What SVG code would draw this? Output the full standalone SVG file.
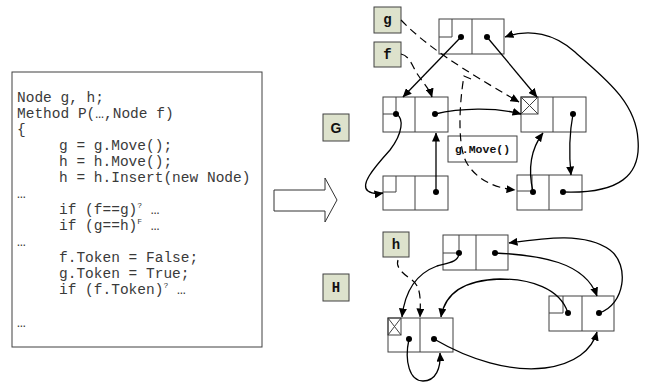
<svg xmlns="http://www.w3.org/2000/svg" width="648" height="387" viewBox="0 0 648 387">
<defs>
  <marker id="ah" markerWidth="9" markerHeight="8" refX="8.5" refY="4" orient="auto" markerUnits="userSpaceOnUse">
    <path d="M0,0 L9,4 L0,8 z" fill="#000"/>
  </marker>
</defs>
<style>
  .box{fill:#fff;stroke:#404040;stroke-width:1}
  .lbl{fill:#dde2cc;stroke:#404040;stroke-width:1}
  .ln{stroke:#404040;stroke-width:1;fill:none}
  .dot{fill:#000}
  .ptr{fill:none;stroke:#000;stroke-width:1.3;marker-end:url(#ah)}
  .dash{fill:none;stroke:#000;stroke-width:1.2;stroke-dasharray:8 5;marker-end:url(#ah)}
  .code{font-family:"Liberation Mono","Courier New",monospace;font-size:14.5px;fill:#3a3a3a}
  .sup{font-size:8px}
  .var{font-family:"Liberation Mono","Courier New",monospace;font-weight:bold;font-size:14px;fill:#111;text-anchor:middle}
  .gname{font-family:"Liberation Sans",Arial,sans-serif;font-weight:bold;font-size:14px;fill:#111;text-anchor:middle}
  .call{font-family:"Liberation Mono","Courier New",monospace;font-weight:bold;font-size:11.5px;fill:#111;text-anchor:middle}
</style>

<!-- source listing -->
<g id="code">
  <rect class="box" x="12" y="72" width="250" height="275"/>
  <text class="code" x="17" y="102">Node g, h;</text>
  <text class="code" x="17" y="118">Method P(…,Node f)</text>
  <text class="code" x="17" y="134">{</text>
  <text class="code" x="59" y="150">g = g.Move();</text>
  <text class="code" x="59" y="166">h = h.Move();</text>
  <text class="code" x="59" y="182">h = h.Insert(new Node)</text>
  <text class="code" x="17" y="198">…</text>
  <text class="code" x="59" y="214">if (f==g)<tspan class="sup" dy="-6">?</tspan><tspan dy="6"> …</tspan></text>
  <text class="code" x="59" y="230">if (g==h)<tspan class="sup" dy="-6">F</tspan><tspan dy="6"> …</tspan></text>
  <text class="code" x="17" y="246">…</text>
  <text class="code" x="59" y="262">f.Token = False;</text>
  <text class="code" x="59" y="278">g.Token = True;</text>
  <text class="code" x="59" y="294">if (f.Token)<tspan class="sup" dy="-6">?</tspan><tspan dy="6"> …</tspan></text>
  <text class="code" x="17" y="327">…</text>
</g>

<!-- transformation arrow -->
<g id="transform">
  <polygon points="274,190 325,190 325,178 337,200 325,222 325,211 274,211" fill="#fff" stroke="#333" stroke-width="1"/>
</g>

<!-- graph labels -->
<g id="label-G"><rect class="lbl" x="323" y="114" width="26" height="27"/><text class="gname" x="336" y="132.5">G</text></g>
<g id="label-H"><rect class="lbl" x="323" y="274" width="26" height="27"/><text class="var" x="336" y="292">H</text></g>

<!-- variables -->
<g id="var-g"><rect class="lbl" x="374" y="7" width="27" height="26"/><text class="var" x="387.5" y="24">g</text></g>
<g id="var-f"><rect class="lbl" x="374" y="42" width="27" height="25"/><text class="var" x="387.5" y="59">f</text></g>
<g id="var-h"><rect class="lbl" x="383" y="232" width="26" height="25"/><text class="var" x="396" y="249">h</text></g>

<!-- graph G nodes -->
<g id="g-n1">
  <rect class="box" x="439" y="19" width="65" height="35"/>
  <line class="ln" x1="472" y1="19" x2="472" y2="54"/>
  <polyline class="ln" points="439,37 452,37 452,19"/>
  <circle class="dot" cx="461" cy="37" r="3"/><circle class="dot" cx="487" cy="37" r="3"/>
</g>
<g id="g-n2">
  <rect class="box" x="383" y="97" width="65" height="35"/>
  <line class="ln" x1="415" y1="97" x2="415" y2="132"/>
  <polyline class="ln" points="383,114 396,114 396,97"/>
  <circle class="dot" cx="396" cy="114" r="3"/><circle class="dot" cx="435" cy="114" r="3"/>
</g>
<g id="g-n3">
  <rect class="box" x="521" y="97" width="65" height="35"/>
  <line class="ln" x1="553" y1="97" x2="553" y2="132"/>
  <rect class="ln" x="521" y="97" width="17" height="17"/>
  <path class="ln" d="M521,97 L538,114 M538,97 L521,114"/>
  <circle class="dot" cx="573" cy="114" r="3"/>
</g>
<g id="g-n4">
  <rect class="box" x="383" y="176" width="65" height="34"/>
  <line class="ln" x1="415" y1="176" x2="415" y2="210"/>
  <polyline class="ln" points="383,192 396,192 396,176"/>
  <circle class="dot" cx="436" cy="192" r="3"/>
</g>
<g id="g-n5">
  <rect class="box" x="517" y="175" width="65" height="35"/>
  <line class="ln" x1="549" y1="175" x2="549" y2="210"/>
  <polyline class="ln" points="517,191 532,191 532,175"/>
  <circle class="dot" cx="533" cy="192" r="3"/><circle class="dot" cx="563" cy="192" r="3"/>
</g>
<g id="move-call">
  <rect class="ln" x="448" y="136" width="69" height="26"/>
  <text class="call" x="482.5" y="153">g.Move()</text>
</g>

<!-- graph H nodes -->
<g id="h-n1">
  <rect class="box" x="443" y="235" width="65" height="35"/>
  <line class="ln" x1="476" y1="235" x2="476" y2="270"/>
  <polyline class="ln" points="443,253 459,253 459,235"/>
  <circle class="dot" cx="459" cy="253" r="3"/><circle class="dot" cx="495" cy="253" r="3"/>
</g>
<g id="h-n2">
  <rect class="box" x="549" y="296" width="65" height="35"/>
  <line class="ln" x1="582" y1="296" x2="582" y2="331"/>
  <polyline class="ln" points="549,313 563,313 563,296"/>
  <circle class="dot" cx="568" cy="313" r="3"/><circle class="dot" cx="599" cy="313" r="3"/>
</g>
<g id="h-n3">
  <rect class="box" x="388" y="318" width="65" height="34"/>
  <line class="ln" x1="420" y1="318" x2="420" y2="352"/>
  <rect class="ln" x="388" y="318" width="13" height="17"/>
  <path class="ln" d="M388,318 L401,335 M401,318 L388,335"/>
  <circle class="dot" cx="409" cy="339" r="3"/><circle class="dot" cx="434" cy="339" r="3"/>
</g>

<!-- pointers -->
<g id="connectors">
  <path class="ptr" d="M461,37 L403,97"/>
  <path class="ptr" d="M487,37 L537,97"/>
  <path class="ptr" d="M435,114 C460,108 495,107 521,114"/>
  <path class="ptr" d="M396,114 C404,118 403,133 390,150 C372,170 360,185 368,191 C372,194 377,194 383,193"/>
  <path class="ptr" d="M436,192 L436,133"/>
  <path class="ptr" d="M533,192 C528,170 530,150 543,133"/>
  <path class="ptr" d="M573,114 C569,135 569,155 571,175"/>
  <path class="ptr" d="M563,192 C620,194 641,175 638,140 C636,100 600,75 575,52 C555,34 530,28 505,37"/>
  <path class="dash" d="M401,20 C425,45 460,68 519,102"/>
  <path class="dash" d="M401,54 C410,56 412,66 418,75 C424,84 430,90 432,97"/>
  <path class="dash" d="M471,79 L464,76 C459,105 457,150 468,165 C478,180 495,188 515,190"/>

  <path class="ptr" d="M459,253 C459,262 448,263 437,266 C418,273 405,290 402,317"/>
  <path class="dash" d="M398,260 C395,268 405,275 412,280 C420,286 421,296 420,317"/>
  <path class="ptr" d="M568,313 C560,288 530,279 500,279 C465,280 445,293 441,317"/>
  <path class="ptr" d="M495,253 C540,255 585,262 597,296"/>
  <path class="ptr" d="M599,313 C625,305 630,265 610,250 C585,232 545,238 509,243"/>
  <path class="ptr" d="M434,339 C470,360 510,372 545,368 C575,364 592,350 597,332"/>
  <path class="ptr" d="M409,339 C404,362 410,381 423,381 C436,381 441,368 440,353"/>
</g>
</svg>
